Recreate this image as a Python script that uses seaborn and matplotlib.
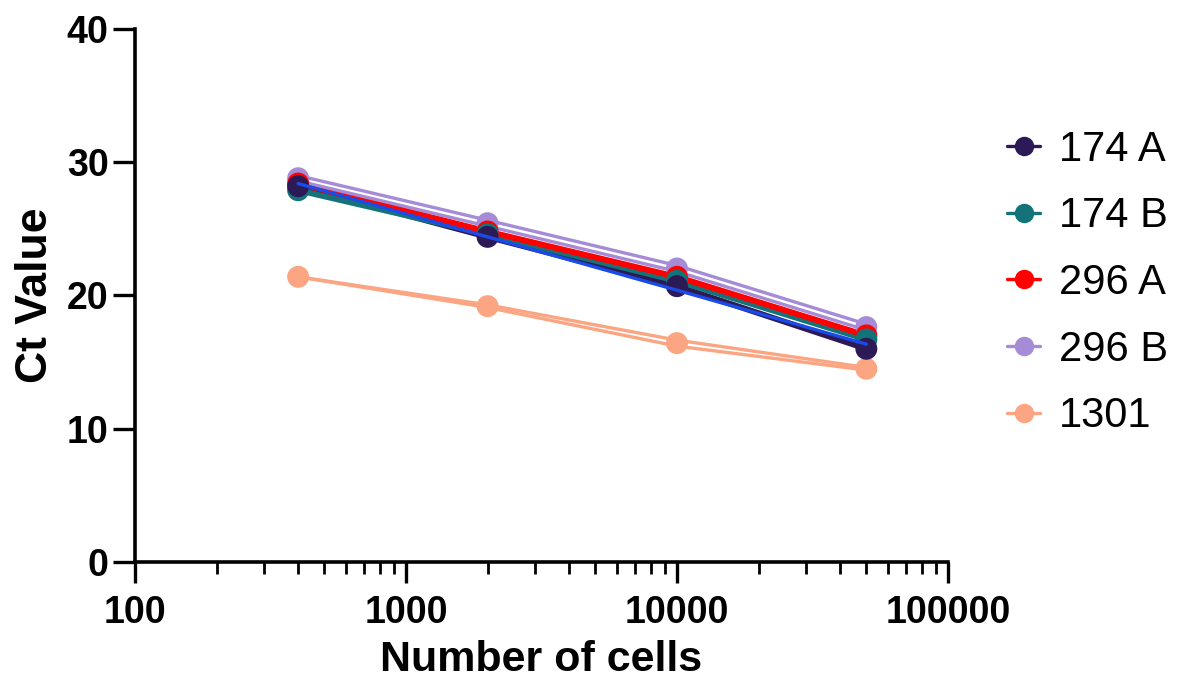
import numpy as np
import pandas as pd
import matplotlib
matplotlib.use("Agg")
import matplotlib.pyplot as plt
from matplotlib.lines import Line2D
from matplotlib.ticker import LogLocator, FixedLocator, NullFormatter
import seaborn as sns

# Cell numbers in the dilution series
cells = [400, 2000, 10000, 50000]

# Ct values, two replicates per sample
series_names = ["174 A", "174 B", "296 A", "296 B", "1301"]
ct_174a_r1 = [28.3, 24.5, 20.8, 16.1]
ct_174a_r2 = [28.1, 24.3, 20.6, 15.9]
ct_174b_r1 = [28.0, 24.7, 21.2, 16.8]
ct_174b_r2 = [27.8, 24.5, 21.0, 16.6]
ct_296a_r1 = [28.5, 24.9, 21.5, 17.1]
ct_296a_r2 = [28.3, 24.7, 21.3, 16.9]
ct_296b_r1 = [29.0, 25.65, 22.25, 17.85]
ct_296b_r2 = [28.6, 25.2, 21.8, 17.4]
ct_1301_r1 = [21.4, 19.3, 16.65, 14.6]
ct_1301_r2 = [21.4, 19.1, 16.2, 14.4]

# Standard curve line
ct_curve = [28.4, 24.4, 20.4, 16.35]

colors = {
    "174 A": "#2C1A57",
    "174 B": "#147378",
    "296 A": "#FF0000",
    "296 B": "#A68BD6",
    "1301": "#FBA582",
}
curve_color = "#1A4BE8"

reps = {
    "174 A": [ct_174a_r1, ct_174a_r2],
    "174 B": [ct_174b_r1, ct_174b_r2],
    "296 A": [ct_296a_r1, ct_296a_r2],
    "296 B": [ct_296b_r1, ct_296b_r2],
    "1301": [ct_1301_r1, ct_1301_r2],
}

rows = []
for name in series_names:
    for r, vals in enumerate(reps[name]):
        for c, v in zip(cells, vals):
            rows.append({"sample": name, "rep": r, "cells": c, "ct": v})
df = pd.DataFrame(rows)
means = df.groupby(["sample", "cells"], as_index=False)["ct"].mean()

sns.set_style("ticks")
plt.rcParams["font.family"] = ["Liberation Sans", "DejaVu Sans"]
plt.rcParams["text.color"] = "black"
plt.rcParams["axes.labelcolor"] = "black"
plt.rcParams["xtick.color"] = "black"
plt.rcParams["ytick.color"] = "black"

fig = plt.figure(figsize=(11.79, 6.84), dpi=100)
ax = fig.add_axes([0.1145, 0.1784, 0.804 - 0.1145, 0.9576 - 0.1784])

# Replicate lines
for name in series_names:
    sub = df[df["sample"] == name]
    sns.lineplot(data=sub, x="cells", y="ct", units="rep", estimator=None,
                 color=colors[name], lw=2.4, ax=ax, zorder=2, legend=False)

# Mean markers (draw order keeps darker samples on top)
for name in ["1301", "296 B", "296 A", "174 B", "174 A"]:
    sub = means[means["sample"] == name]
    sns.scatterplot(data=sub, x="cells", y="ct", color=colors[name], s=250,
                    edgecolor="none", ax=ax, zorder=3, legend=False)

curve_df = pd.DataFrame({"cells": cells, "ct": ct_curve})
sns.lineplot(data=curve_df, x="cells", y="ct", color=curve_color, lw=2.4,
             ax=ax, zorder=4, legend=False)

ax.set_xscale("log")
ax.set_xlim(100, 100000)
ax.set_ylim(0, 40)
ax.set_yticks([0, 10, 20, 30, 40])
ax.xaxis.set_major_locator(FixedLocator([100, 1000, 10000, 100000]))
ax.set_xticklabels(["100", "1000", "10000", "100000"])
ax.xaxis.set_minor_locator(LogLocator(base=10, subs=np.arange(2, 10)))
ax.xaxis.set_minor_formatter(NullFormatter())

for s in ["top", "right"]:
    ax.spines[s].set_visible(False)
for s in ["left", "bottom"]:
    ax.spines[s].set_linewidth(2.6)
    ax.spines[s].set_color("black")

ax.tick_params(axis="y", which="major", length=16, width=2.4, pad=3,
               labelsize=27, direction="out")
ax.tick_params(axis="x", which="major", length=15, width=2.4, pad=9,
               labelsize=27, direction="out")
ax.tick_params(axis="x", which="minor", length=8.5, width=2.0, direction="out")
for lab in ax.get_xticklabels() + ax.get_yticklabels():
    lab.set_fontweight("bold")

ax.set_xlabel("Number of cells", fontsize=31, fontweight="bold", labelpad=6)
ax.set_ylabel("Ct Value", fontsize=32, fontweight="bold", labelpad=8)

handles = [Line2D([0], [0], color=colors[n], lw=2.4, marker="o", markersize=14,
                  markeredgewidth=0) for n in series_names]
leg = fig.legend(handles, series_names, loc="upper left",
                 bbox_to_anchor=(0.840, 0.835), frameon=False, fontsize=30,
                 handlelength=0.8, handletextpad=0.45, labelspacing=0.64,
                 borderaxespad=0)

fig.savefig("out.png", dpi=100)
